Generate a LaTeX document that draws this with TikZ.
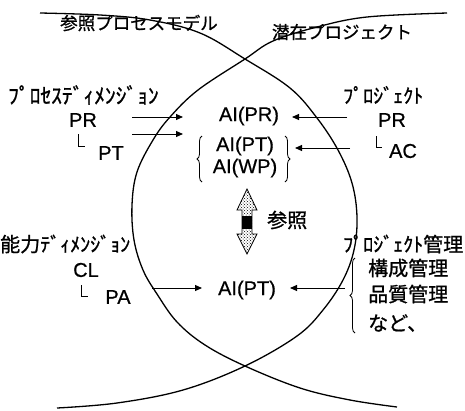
\documentclass[tikz,border=0pt]{standalone}
\usepackage{fontspec}
\setmainfont{Liberation Sans}[FakeBold=0.6]
\newfontfamily\jp{Noto Sans CJK JP}[FakeBold=1]
\usetikzlibrary{arrows.meta,patterns,decorations.pathreplacing}
\tikzset{
  curve/.style={line width=1.3pt},
  conn/.style={line width=1pt,-{Triangle[length=7pt,width=6pt]}},
  lat/.style={inner sep=0pt,font=\fontsize{20}{23}\selectfont},
  jpb/.style={inner sep=0pt,font=\jp\fontsize{20}{24}\selectfont},
  jpw/.style={inner sep=0pt,font=\jp\fontsize{21.5}{24}\selectfont},
  jpt/.style={inner sep=0pt,font=\jp\fontsize{17.5}{21}\selectfont},
  brc/.style={line width=0.8pt,decorate,decoration={brace,amplitude=5pt}},
  corner/.style={line width=0.9pt}
}
\begin{document}
\begin{tikzpicture}[x=1pt,y=-1pt]
\useasboundingbox (0,0) rectangle (465,410);
% the two large curves
\draw[curve] plot[smooth,tension=0.6] coordinates {(40,13) (100,15) (150,20) (200,33) (245,59) (290,88) (317,118) (338,150) (352,183) (357,217) (354,250) (343,280) (323,310) (297,336) (245,366) (183,390) (117,403) (57,408)};
\draw[curve] plot[smooth,tension=0.6] coordinates {(447,13) (367,17) (317,27) (273,41) (245,59) (198,90) (170,117) (153,140) (137,172) (132,205) (134,240) (143,270) (157,294) (177,322) (205,345) (245,366) (300,388) (350,400) (397,407)};
% titles
\node[jpt] (t1) at (139,23) {参照プロセスモデル};
\node[jpt] (t2) at (342,32) {潜在プロジェクト};
% left dimension
\node[jpw,anchor=west] (pd) at (8,95) {ﾌﾟﾛｾｽﾃﾞｨﾒﾝｼﾞｮﾝ};
\node[lat] (lpr) at (83,120) {PR};
\node[lat] (lpt) at (111,153) {PT};
\draw[corner] (78,134) -- (78,146) -- (85,146);
% right project
\node[jpb,anchor=west] (pj) at (343,95) {ﾌﾟﾛｼﾞｪｸﾄ};
\node[lat] (rpr) at (392,120) {PR};
\node[lat] (rac) at (403,151) {AC};
\draw[corner] (376,136) -- (376,147) -- (382,147);
% centre
\node[lat] (aipr) at (249,116) {AI(PR)};
\node[lat] (aipt) at (245,146) {AI(PT)};
\node[lat] (aiwp) at (245,168) {AI(WP)};
\draw[brc] (202,182) -- (202,136);
\draw[brc] (285,136) -- (285,182);
% arrows upper
\coordinate (la1) at (132,117); \coordinate (la1e) at (183,117);
\coordinate (la2) at (132,134); \coordinate (la2e) at (183,134);
\coordinate (ra1) at (347,117); \coordinate (ra1e) at (292,117);
\coordinate (ra2) at (350,148); \coordinate (ra2e) at (295,148);
\draw[conn] (la1) -- (la1e);
\draw[conn] (la2) -- (la2e);
\draw[conn] (ra1) -- (ra1e);
\draw[conn] (ra2) -- (ra2e);
% hatched double arrow
\draw[line width=0.8pt,pattern=crosshatch dots] (247,189) -- (257,210) -- (252,210) -- (252,234) -- (257,234) -- (247,254) -- (237,234) -- (242,234) -- (242,210) -- (237,210) -- cycle;
\fill (242,216) rectangle (252,229);
\node[jpb,anchor=west] (sansho) at (267,220) {参照};
% capability dimension
\node[jpb,anchor=west] (nd) at (0,244) {能力ﾃﾞｨﾒﾝｼﾞｮﾝ};
\node[lat] (cl) at (86,270) {CL};
\node[lat] (pa) at (118,297) {PA};
\draw[corner] (81,285) -- (81,296) -- (88,296);
% project management
\node[jpb,anchor=west] (pm) at (343,244) {ﾌﾟﾛｼﾞｪｸﾄ管理};
\node[jpb,anchor=west] (k1) at (368,268) {構成管理};
\node[jpb,anchor=west] (k2) at (368,294) {品質管理};
\node[jpb,anchor=west] (k3) at (368,323) {など、};
\draw[brc] (355,333) -- (355,258);
% lower centre
\node[lat] (aipt2) at (247,290) {AI(PT)};
\coordinate (lb) at (152,288); \coordinate (lbe) at (202,288);
\coordinate (rb) at (345,288); \coordinate (rbe) at (290,288);
\draw[conn] (lb) -- (lbe);
\draw[conn] (rb) -- (rbe);
\end{tikzpicture}
\end{document}
